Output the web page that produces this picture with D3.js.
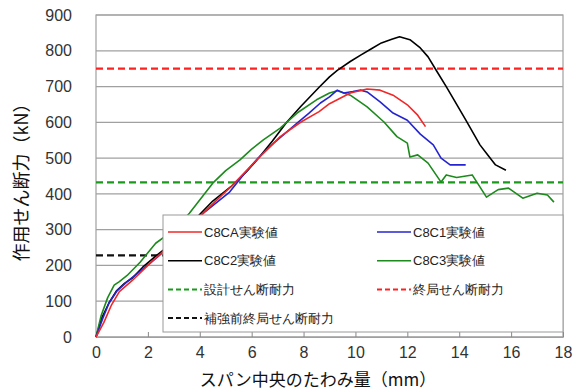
<!DOCTYPE html>
<html>
<head>
<meta charset="utf-8">
<script src="https://cdn.jsdelivr.net/npm/d3@7"></script>
<style>
  body { margin: 0; background: #fff; }
  text { font-family: "Liberation Sans", Arial, sans-serif; }
  .jp { font-family: "Noto Sans CJK JP", sans-serif; }
</style>
</head>
<body>
<div id="chart"></div>
<script>
// 実験値 (deflection mm, shear kN)
var c8caX = [0, 0.3, 0.6, 0.9, 1.4, 2.0, 2.6, 3.2, 3.9, 4.5, 5.2, 5.8, 6.3, 7.1, 7.9, 8.6, 9.0, 9.3, 9.8, 10.45, 10.95, 11.45, 12.0, 12.4, 12.7]
var c8caY = [0, 40, 90, 127, 158, 200, 240, 280, 330, 372, 420, 465, 503, 560, 601, 630, 652, 663, 682, 693, 690, 676, 649, 620, 588]

var c8c1X = [0, 0.25, 0.5, 0.8, 1.2, 1.8, 2.4, 3.0, 3.5, 4.2, 5.15, 5.7, 6.25, 6.85, 7.3, 7.75, 8.2, 8.65, 9.0, 9.3, 9.55, 9.9, 10.2, 10.45, 10.95, 11.45, 12.0, 12.5, 13.0, 13.3, 13.65, 14.25]
var c8c1Y = [0, 50, 95, 128, 155, 190, 225, 265, 300, 350, 405, 455, 500, 542, 570, 598, 625, 654, 671, 690, 682, 686, 690, 685, 657, 626, 606, 567, 537, 500, 481, 481]

var c8c2X = [0, 0.2, 0.5, 0.8, 1.1, 1.4, 1.8, 2.3, 2.9, 3.5, 3.9, 4.5, 5.2, 5.8, 6.3, 6.8, 7.35, 7.9, 8.6, 9.0, 9.3, 9.8, 10.2, 10.6, 11.0, 11.4, 11.7, 12.1, 12.5, 12.8, 13.1, 13.5, 13.8, 14.25, 14.8, 15.1, 15.4, 15.8]
var c8c2Y = [0, 50, 95, 130, 150, 165, 195, 226, 260, 299, 335, 380, 420, 462, 503, 548, 600, 645, 698, 727, 745, 770, 788, 805, 822, 832, 839, 831, 808, 783, 747, 700, 663, 607, 537, 509, 481, 466]

var c8c3X = [0, 0.2, 0.45, 0.7, 0.9, 1.2, 1.7, 2.3, 3.0, 3.6, 4.5, 5.0, 5.55, 6.0, 6.45, 7.1, 7.75, 8.5, 9.0, 9.3, 9.8, 10.45, 11.1, 11.6, 12.0, 12.1, 12.4, 12.8, 13.3, 13.5, 13.9, 14.5, 15.05, 15.5, 15.9, 16.45, 17.0, 17.4, 17.65]
var c8c3Y = [0, 60, 110, 145, 155, 172, 209, 262, 299, 346, 430, 465, 495, 525, 551, 584, 626, 663, 682, 688, 676, 643, 601, 560, 542, 503, 509, 486, 433, 453, 446, 453, 391, 412, 416, 388, 402, 397, 377]

// せん断耐力 (kN)
var designShear = 432
var ultimateShear = 750
var preUltimateShear = 228

var xTicks = [0, 2, 4, 6, 8, 10, 12, 14, 16, 18]
var yTicks = [0, 100, 200, 300, 400, 500, 600, 700, 800, 900]

var width = 577, height = 392
var margin = {left: 96, right: 14, top: 15, bottom: 55}

var svg = d3.select("#chart").append("svg")
    .attr("width", width)
    .attr("height", height)

var x = d3.scaleLinear().domain([0, 18]).range([margin.left, width - margin.right])
var y = d3.scaleLinear().domain([0, 900]).range([height - margin.bottom, margin.top])

// 横グリッド
svg.append("g")
  .selectAll("line")
  .data(yTicks)
  .enter().append("line")
    .attr("x1", x(0)).attr("x2", x(18))
    .attr("y1", function(d) { return y(d) })
    .attr("y2", function(d) { return y(d) })
    .attr("stroke", "#a0a0a0")
    .attr("stroke-width", 1.2)

// 枠
svg.append("rect")
    .attr("x", x(0)).attr("y", y(900))
    .attr("width", x(18) - x(0)).attr("height", y(0) - y(900))
    .attr("fill", "none")
    .attr("stroke", "#a0a0a0")
    .attr("stroke-width", 1.2)

// x軸
var xAxis = svg.append("g")
    .attr("transform", "translate(0," + y(0) + ")")
    .call(d3.axisBottom(x).tickValues(xTicks).tickSizeInner(-5).tickSizeOuter(0).tickPadding(10))
xAxis.select(".domain").attr("stroke", "#a0a0a0").attr("stroke-width", 1.2)
xAxis.selectAll(".tick line").attr("stroke", "#888")
xAxis.selectAll("text").attr("font-size", 16).attr("fill", "#333")

// y軸
var yAxis = svg.append("g")
    .attr("transform", "translate(" + x(0) + ",0)")
    .call(d3.axisLeft(y).tickValues(yTicks).tickSize(0).tickPadding(24))
yAxis.select(".domain").remove()
yAxis.selectAll("text").attr("font-size", 16).attr("fill", "#333")

// 基準線
var refs = [
  {v: preUltimateShear, color: "#111"},
  {v: designShear, color: "#1a9a1a"},
  {v: ultimateShear, color: "#ff2020"}
]
svg.append("g")
  .selectAll("line")
  .data(refs)
  .enter().append("line")
    .attr("x1", x(0)).attr("x2", x(18))
    .attr("y1", function(d) { return y(d.v) })
    .attr("y2", function(d) { return y(d.v) })
    .attr("stroke", function(d) { return d.color })
    .attr("stroke-width", 2.2)
    .attr("stroke-dasharray", "7,4")

// 曲線
var series = [
  {name: "C8CA実験値", xs: c8caX, ys: c8caY, color: "#f02828"},
  {name: "C8C1実験値", xs: c8c1X, ys: c8c1Y, color: "#2424d0"},
  {name: "C8C2実験値", xs: c8c2X, ys: c8c2Y, color: "#000"},
  {name: "C8C3実験値", xs: c8c3X, ys: c8c3Y, color: "#1c8a1c"}
]
var line = d3.line()
    .x(function(d) { return x(d[0]) })
    .y(function(d) { return y(d[1]) })
    .curve(d3.curveLinear)

var drawOrder = [2, 3, 1, 0]
drawOrder.forEach(function(i) {
  var s = series[i]
  svg.append("path")
      .datum(d3.zip(s.xs, s.ys))
      .attr("d", line)
      .attr("fill", "none")
      .attr("stroke", s.color)
      .attr("stroke-width", 1.6)
      .attr("stroke-linejoin", "round")
})

// 凡例
var lg = svg.append("g").attr("class", "jp")
lg.append("rect")
    .attr("x", 163).attr("y", 215)
    .attr("width", x(18) - 163).attr("height", 117)
    .attr("fill", "#fff")
    .attr("stroke", "#999")
    .attr("stroke-width", 1)

var legendItems = [
  {label: "C8CA実験値", color: "#f02828", dash: null, col: 0, row: 0},
  {label: "C8C1実験値", color: "#2424d0", dash: null, col: 1, row: 0},
  {label: "C8C2実験値", color: "#000", dash: null, col: 0, row: 1},
  {label: "C8C3実験値", color: "#1c8a1c", dash: null, col: 1, row: 1},
  {label: "設計せん断耐力", color: "#1a9a1a", dash: "5,3", col: 0, row: 2},
  {label: "終局せん断耐力", color: "#ff2020", dash: "5,3", col: 1, row: 2},
  {label: "補強前終局せん断耐力", color: "#111", dash: "5,3", col: 0, row: 3}
]
var item = lg.selectAll(".item")
    .data(legendItems)
    .enter().append("g")
    .attr("transform", function(d) {
      return "translate(" + (168 + d.col * 209) + "," + (232 + d.row * 28.7) + ")"
    })
item.append("line")
    .attr("x1", 0).attr("x2", 34)
    .attr("stroke", function(d) { return d.color })
    .attr("stroke-width", function(d) { return d.dash ? 2 : 1.6 })
    .attr("stroke-dasharray", function(d) { return d.dash })
item.append("text")
    .attr("x", 36).attr("y", 4.5)
    .attr("font-size", 13)
    .attr("fill", "#222")
    .text(function(d) { return d.label })

// 軸タイトル
svg.append("text")
    .attr("class", "jp")
    .attr("x", 318).attr("y", 386)
    .attr("text-anchor", "middle")
    .attr("font-size", 17)
    .attr("fill", "#111")
    .text("スパン中央のたわみ量（mm）")

svg.append("text")
    .attr("class", "jp")
    .attr("transform", "translate(28,178) rotate(-90)")
    .attr("text-anchor", "middle")
    .attr("font-size", 18)
    .attr("fill", "#111")
    .text("作用せん断力（kN）")
</script>
</body>
</html>
